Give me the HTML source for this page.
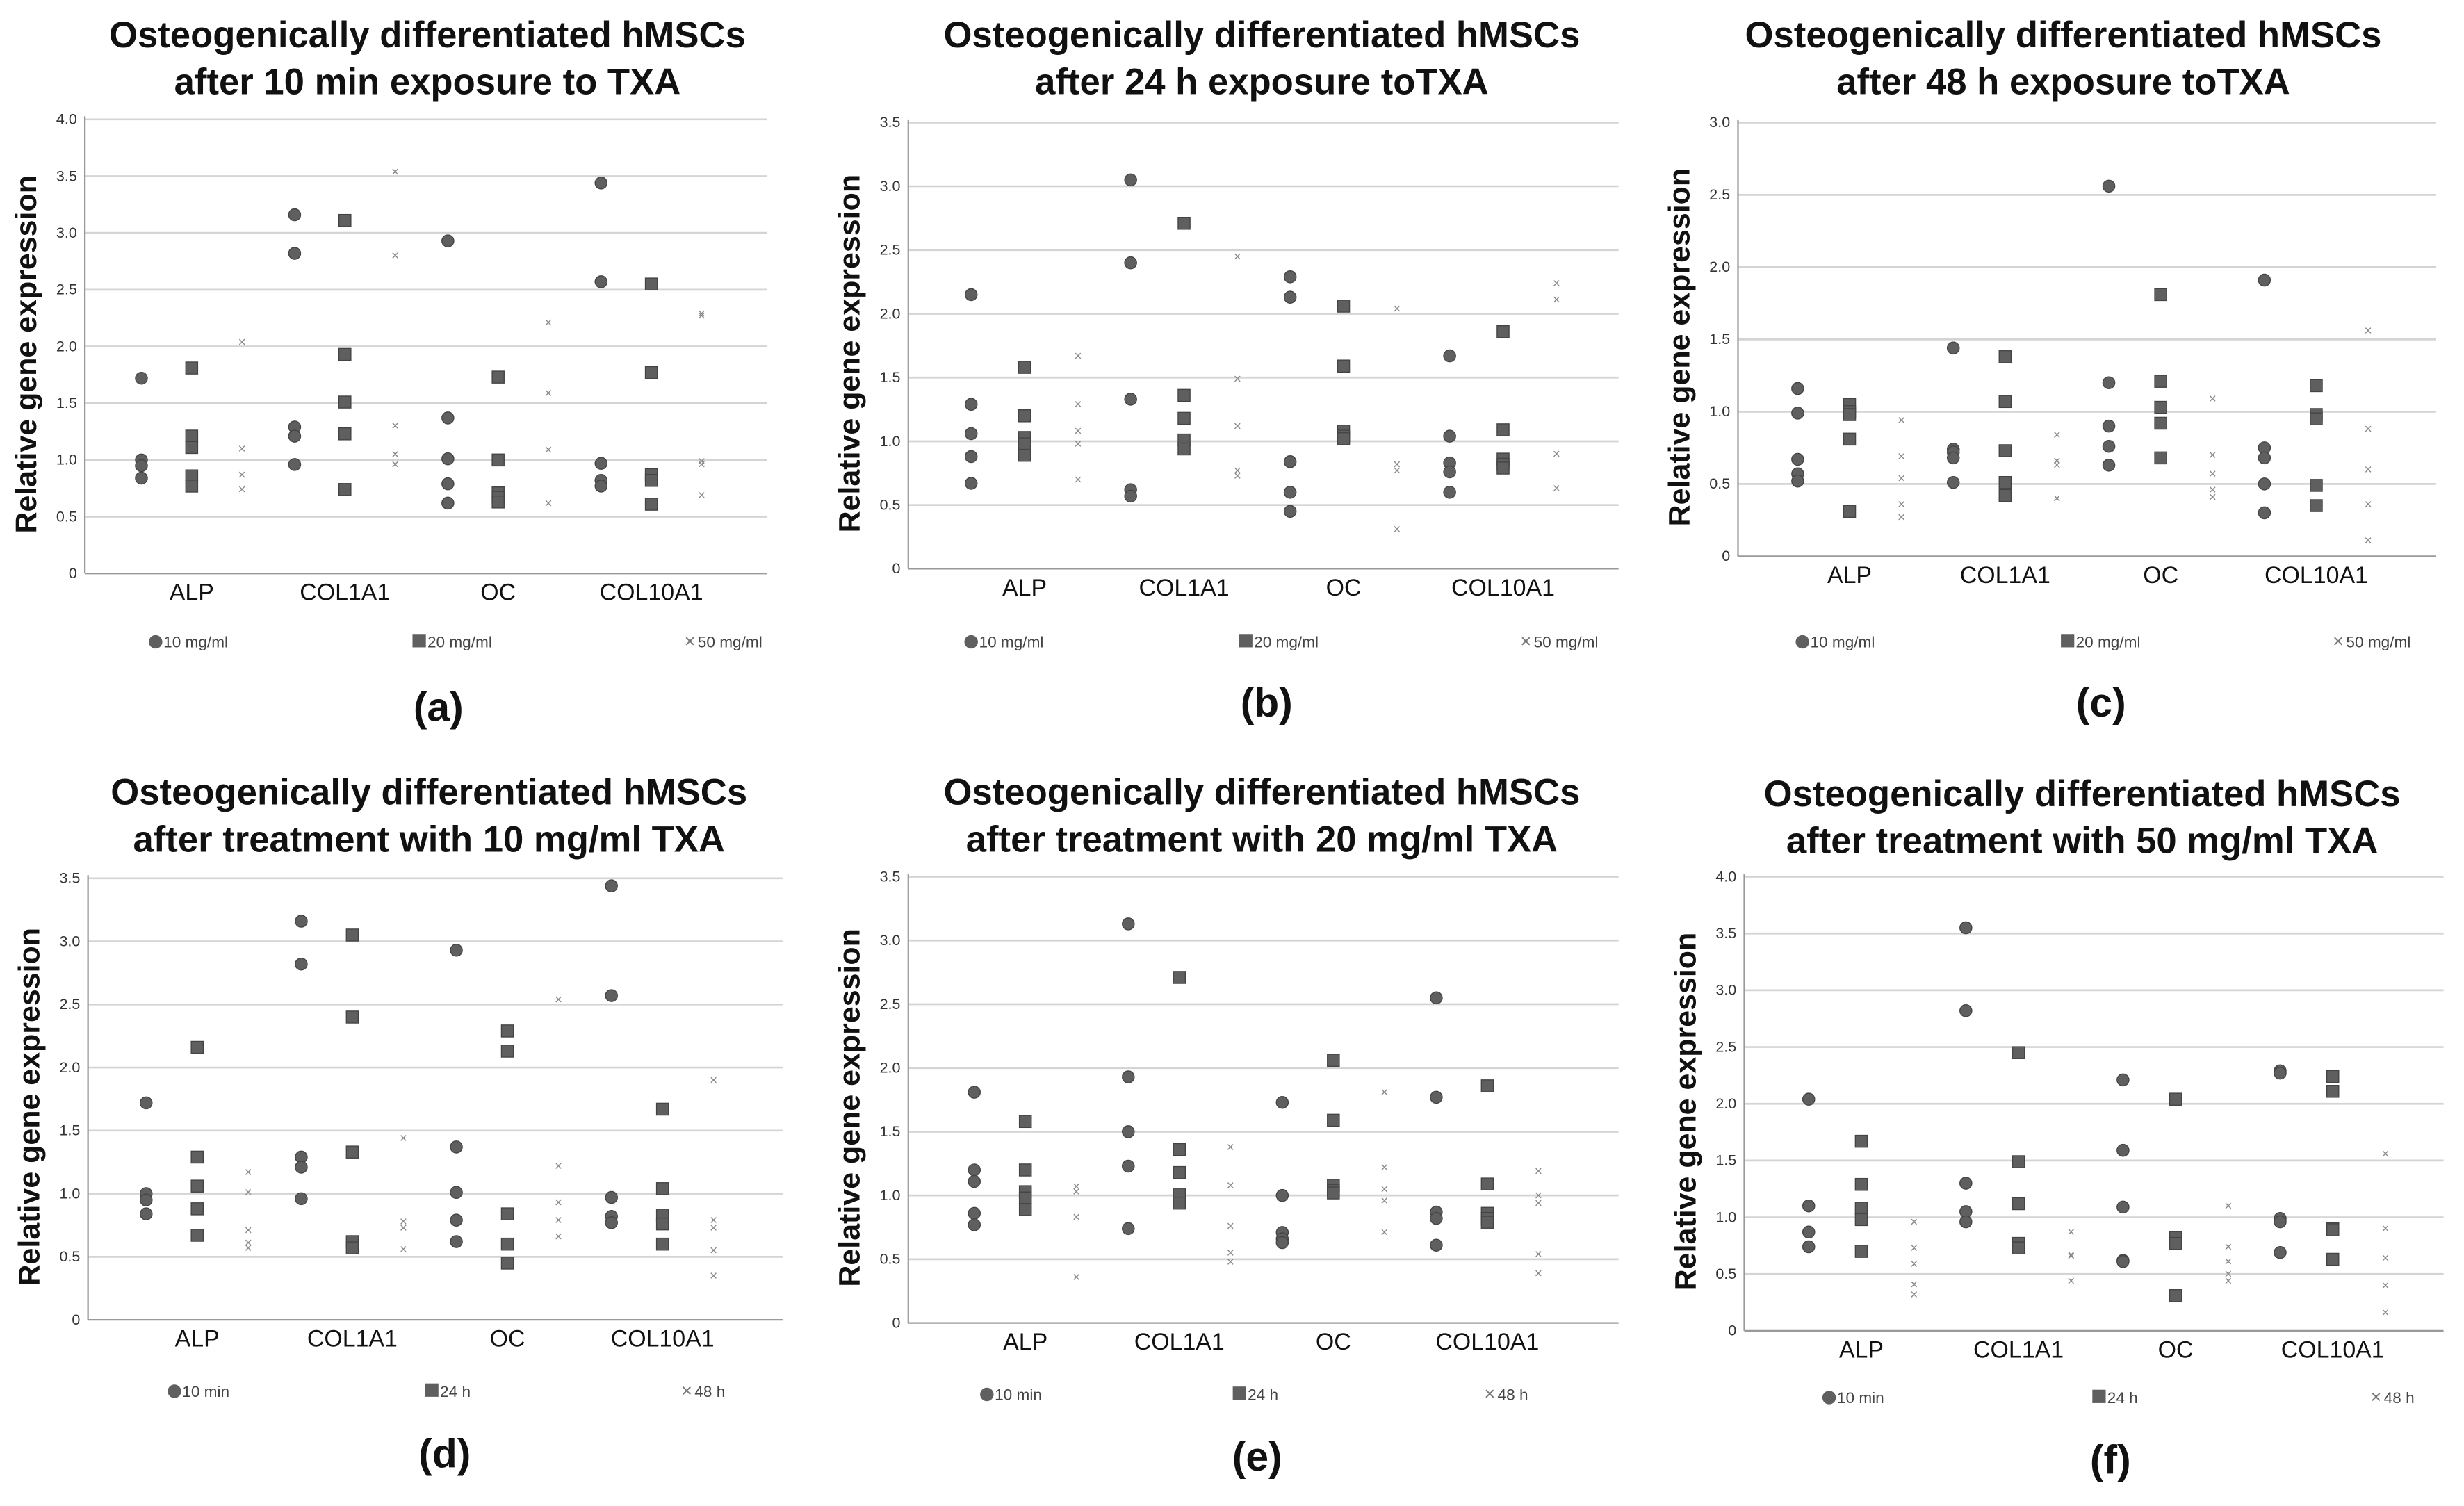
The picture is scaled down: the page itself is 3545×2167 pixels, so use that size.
<!DOCTYPE html>
<html><head><meta charset="utf-8"><style>
html,body{margin:0;padding:0;background:#fff}
svg{display:block}
text{font-family:"Liberation Sans",Arial,sans-serif}
</style></head><body>
<svg id="fig" width="3545" height="2167" viewBox="0 0 1568 958.5" xmlns="http://www.w3.org/2000/svg"></svg>
<script>
const categories = ["ALP","COL1A1","OC","COL10A1"];
// Panel a: 10 min exposure (10, 20, 50 mg/ml)
const aS1 = [[1.72,1.0,0.95,0.84],[3.16,2.82,1.29,1.21,0.96],[2.93,1.37,1.01,0.79,0.62],[3.44,2.57,0.97,0.82,0.77]];
const aS2 = [[1.81,1.21,1.11,0.86,0.77],[3.11,1.93,1.51,1.23,0.74],[1.73,1.0,0.71,0.67,0.63],[2.55,1.77,0.87,0.82,0.61]];
const aS3 = [[2.04,1.10,0.87,0.74],[3.54,2.80,1.30,1.05,0.96],[2.21,1.59,1.09,0.62],[2.29,2.27,0.99,0.96,0.69]];
// Panel b: 24 h exposure
const bS1 = [[2.15,1.29,1.06,0.88,0.67],[3.05,2.40,1.33,0.62,0.57],[2.29,2.13,0.84,0.60,0.45],[1.67,1.04,0.83,0.76,0.60]];
const bS2 = [[1.58,1.20,1.03,0.98,0.89],[2.71,1.36,1.18,1.01,0.94],[2.06,1.59,1.08,1.04,1.02],[1.86,1.09,0.86,0.82,0.79]];
const bS3 = [[1.67,1.29,1.08,0.98,0.70],[2.45,1.49,1.12,0.77,0.73],[2.04,0.82,0.77,0.31],[2.24,2.11,0.90,0.63]];
// Panel c: 48 h exposure
const cS1 = [[1.16,0.99,0.67,0.57,0.52],[1.44,0.74,0.72,0.68,0.51],[2.56,1.20,0.90,0.76,0.63],[1.91,0.75,0.68,0.50,0.30]];
const cS2 = [[1.05,1.0,0.98,0.81,0.31],[1.38,1.07,0.73,0.51,0.42],[1.81,1.21,1.03,0.92,0.68],[1.18,0.98,0.95,0.49,0.35]];
const cS3 = [[0.94,0.69,0.54,0.36,0.27],[0.84,0.66,0.63,0.40],[1.09,0.70,0.57,0.46,0.41],[1.56,0.88,0.60,0.36,0.11]];
// Panel d: 10 mg/ml (10 min, 24 h, 48 h)
const dS1 = [[1.72,1.0,0.95,0.84],[3.16,2.82,1.29,1.21,0.96],[2.93,1.37,1.01,0.79,0.62],[3.44,2.57,0.97,0.82,0.77]];
const dS2 = [[2.16,1.29,1.06,0.88,0.67],[3.05,2.40,1.33,0.62,0.57],[2.29,2.13,0.84,0.60,0.45],[1.67,1.04,0.83,0.76,0.60]];
const dS3 = [[1.17,1.01,0.71,0.61,0.57],[1.44,0.78,0.73,0.56],[2.54,1.22,0.93,0.79,0.66],[1.90,0.79,0.73,0.55,0.35]];
// Panel e: 20 mg/ml
const eS1 = [[1.81,1.20,1.11,0.86,0.77],[3.13,1.93,1.50,1.23,0.74],[1.73,1.0,0.71,0.66,0.63],[2.55,1.77,0.87,0.82,0.61]];
const eS2 = [[1.58,1.20,1.03,0.98,0.89],[2.71,1.36,1.18,1.01,0.94],[2.06,1.59,1.08,1.04,1.02],[1.86,1.09,0.86,0.82,0.79]];
const eS3 = [[1.07,1.03,0.83,0.36],[1.38,1.08,0.76,0.55,0.48],[1.81,1.22,1.05,0.96,0.71],[1.19,1.0,0.94,0.54,0.39]];
// Panel f: 50 mg/ml
const fS1 = [[2.04,1.10,0.87,0.74],[3.55,2.82,1.30,1.05,0.96],[2.21,1.59,1.09,0.62,0.61],[2.29,2.27,0.99,0.96,0.69]];
const fS2 = [[1.67,1.29,1.08,0.98,0.70],[2.45,1.49,1.12,0.77,0.73],[2.04,0.82,0.77,0.31],[2.24,2.11,0.90,0.89,0.63]];
const fS3 = [[0.96,0.73,0.59,0.41,0.32],[0.87,0.67,0.66,0.44],[1.10,0.74,0.61,0.50,0.44],[1.56,0.90,0.64,0.40,0.16]];
const ticksA = ["0","0.5","1.0","1.5","2.0","2.5","3.0","3.5","4.0"];
const ticks35 = ["0","0.5","1.0","1.5","2.0","2.5","3.0","3.5"];
const ticks30 = ["0","0.5","1.0","1.5","2.0","2.5","3.0"];
const legConc = ["10 mg/ml","20 mg/ml","50 mg/ml"];
const legTime = ["10 min","24 h","48 h"];

const NS="http://www.w3.org/2000/svg";
const svg=document.getElementById('fig');
function mk(tag,attrs,parent,txt){const e=document.createElementNS(NS,tag);for(const k in attrs)e.setAttribute(k,attrs[k]);if(txt!==undefined)e.textContent=txt;(parent||svg).appendChild(e);return e;}

const panels=[
 {id:'a',t:["Osteogenically differentiated hMSCs","after 10 min exposure to TXA"],tc:272,ty:30,ax:54,rx:488,y0:365,yt:76,ticks:ticksA,g0:90,gs:97.5,ss:32,s:[aS1,aS2,aS3],leg:legConc,ly:412,lx:[103,271,443],lab:279,laby:459},
 {id:'b',t:["Osteogenically differentiated hMSCs","after 24 h exposure toTXA"],tc:803,ty:30,ax:578,rx:1030,y0:362,yt:78,ticks:ticks35,g0:618,gs:101.5,ss:34,s:[bS1,bS2,bS3],leg:legConc,ly:412,lx:[622,797,975],lab:806,laby:456},
 {id:'c',t:["Osteogenically differentiated hMSCs","after 48 h exposure toTXA"],tc:1313,ty:30,ax:1106,rx:1550,y0:354,yt:78,ticks:ticks30,g0:1144,gs:99,ss:33,s:[cS1,cS2,cS3],leg:legConc,ly:412,lx:[1151,1320,1492],lab:1337,laby:456},
 {id:'d',t:["Osteogenically differentiated hMSCs","after treatment with 10 mg/ml TXA"],tc:273,ty:512,ax:56,rx:498,y0:840,yt:559,ticks:ticks35,g0:93,gs:98.7,ss:32.5,s:[dS1,dS2,dS3],leg:legTime,ly:889,lx:[115,279,441],lab:283,laby:934},
 {id:'e',t:["Osteogenically differentiated hMSCs","after treatment with 20 mg/ml TXA"],tc:803,ty:512,ax:578,rx:1030,y0:842,yt:558,ticks:ticks35,g0:620,gs:98,ss:32.5,s:[eS1,eS2,eS3],leg:legTime,ly:891,lx:[632,793,952],lab:800,laby:936},
 {id:'f',t:["Osteogenically differentiated hMSCs","after treatment with 50 mg/ml TXA"],tc:1325,ty:513,ax:1110,rx:1555,y0:847,yt:558,ticks:ticksA,g0:1151,gs:100,ss:33.5,s:[fS1,fS2,fS3],leg:legTime,ly:893,lx:[1168,1340,1516],lab:1343,laby:938}
];
const col="#5f5f5f";
function marker(g,type,x,y){
  let e;
  if(type===0){e=mk('circle',{cx:x,cy:y,r:3.8,fill:col,stroke:'#444','stroke-width':0.6},g);}
  else if(type===1){e=mk('rect',{x:x-3.8,y:y-3.8,width:7.6,height:7.6,fill:col,stroke:'#444','stroke-width':0.6},g);}
  else{e=mk('text',{x:x,y:y+2.8,'font-size':8.5,'text-anchor':'middle',fill:'#888'},g,'×');}
  return e;
}
panels.forEach(p=>{
  const g=mk('g',{});
  
  
  const ymax=(p.ticks.length-1)*0.5;
  const yS=v=>p.y0-(p.y0-p.yt)*v/ymax;
  const xS=(ci,si)=>p.g0+ci*p.gs+si*p.ss;
  p.t.forEach((line,i)=>{const t=mk('text',{x:p.tc,y:p.ty+i*30,'font-size':23.3,'font-weight':'bold','text-anchor':'middle',fill:'#111'},g,line);
    });
  p.ticks.forEach((lb,i)=>{const y=yS(i*0.5);
    if(i>0){const gl=mk('line',{x1:p.ax,x2:p.rx,y1:y,y2:y,stroke:'#d4d4d4','stroke-width':1.2},g);
      }
    const t=mk('text',{x:p.ax-5,y:y+3,'font-size':9.5,'text-anchor':'end',fill:'#333'},g,lb);
    });
  const ya=mk('line',{x1:p.ax,x2:p.ax,y1:p.yt-2,y2:p.y0,stroke:'#999','stroke-width':1},g);
  
  const xa=mk('line',{x1:p.ax,x2:p.rx,y1:p.y0,y2:p.y0,stroke:'#999','stroke-width':1},g);
  
  const yt=mk('text',{x:0,y:0,'font-size':19,'font-weight':'bold','text-anchor':'middle',fill:'#111',transform:`translate(${p.ax-31},${(p.y0+p.yt)/2+5}) rotate(-90)`},g,'Relative gene expression');
  
  categories.forEach((c,ci)=>{const t=mk('text',{x:xS(ci,1),y:p.y0+17,'font-size':15,'text-anchor':'middle',fill:'#111'},g,c);
    });
  p.s.forEach((ser,si)=>{ser.forEach((vals,ci)=>{vals.forEach(v=>{const m=marker(g,si,xS(ci,si),yS(v));
    
    });});});
  p.leg.forEach((lb,i)=>{const lg=mk('g',{},g);
    
    const x=p.lx[i];
    if(i===0)mk('circle',{cx:x-4,cy:p.ly-3.5,r:4.3,fill:col},lg);
    else if(i===1)mk('rect',{x:x-8.5,y:p.ly-8.5,width:8.5,height:8.5,fill:col},lg);
    else mk('text',{x:x-4,y:p.ly,'font-size':12,'text-anchor':'middle',fill:'#777'},lg,'×');
    mk('text',{x:x+1,y:p.ly,'font-size':10,fill:'#444'},lg,lb);});
  const pl=mk('text',{x:p.lab,y:p.laby,'font-size':26,'font-weight':'bold','text-anchor':'middle',fill:'#111'},g,'('+p.id+')');
  
});
</script>
</body></html>
